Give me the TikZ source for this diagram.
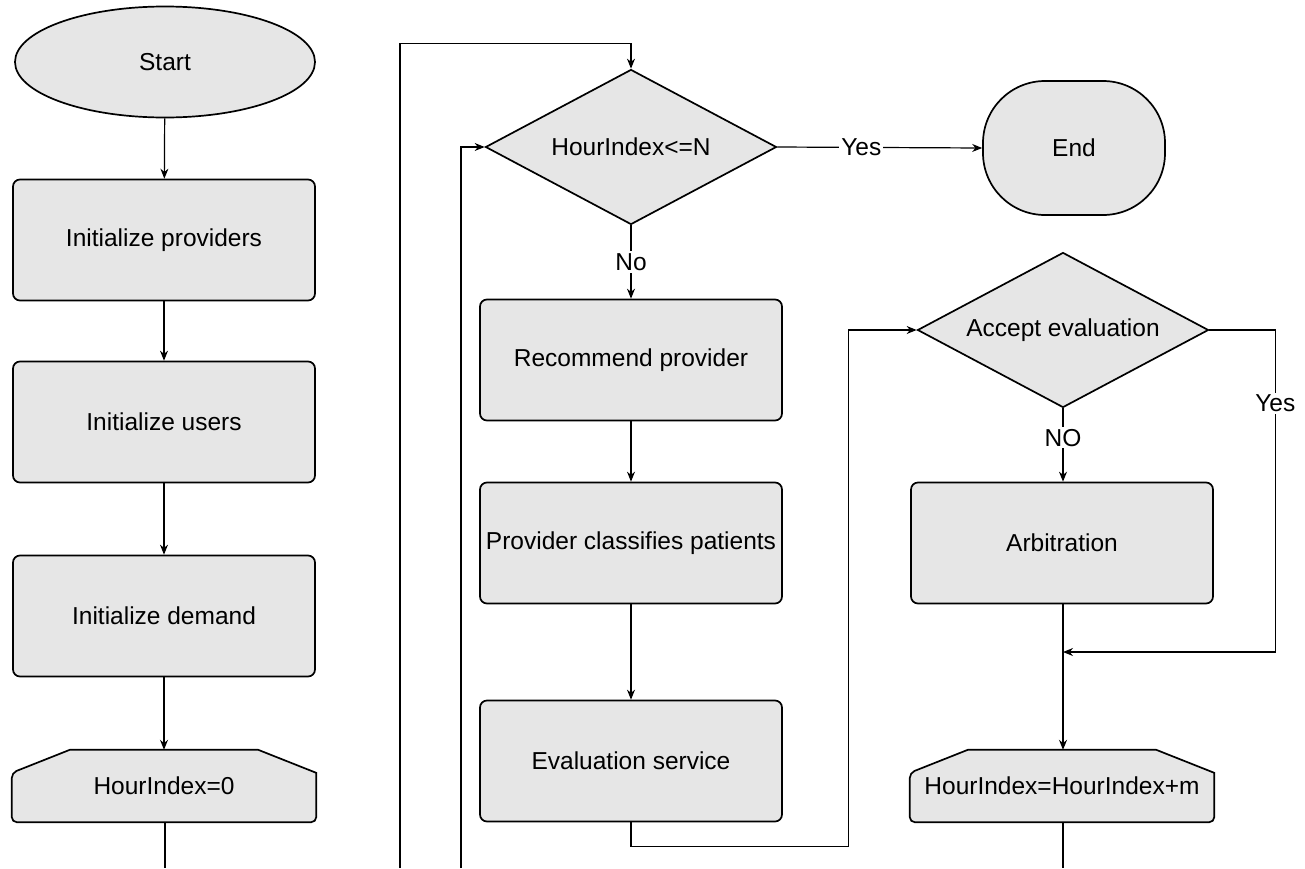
\documentclass[tikz,border=0pt]{standalone}
\usepackage{fontspec}
\setmainfont{Liberation Sans}
\usetikzlibrary{arrows.meta,shapes.geometric,shapes.misc}
\definecolor{boxgray}{HTML}{E6E6E6}
\pgfdeclarelayer{bg}
\pgfsetlayers{bg,main}
\newcommand\prepoutline[1]{%
  \begin{pgfonlayer}{bg}
  \draw[line width=1.7pt, fill=boxgray]
    ([xshift=58pt]#1.north west) -- ([xshift=-58pt]#1.north east)
    -- ([yshift=-23pt]#1.north east) [rounded corners=5pt] -- (#1.south east)
    -- (#1.south west) -- ([yshift=-23pt]#1.north west) [sharp corners] -- cycle;
  \end{pgfonlayer}}
\begin{document}
\begin{tikzpicture}[x=1pt,y=-1pt,
  every node/.style={font=\fontsize{24.5}{29}\selectfont},
  shp/.style={draw, line width=1.7pt, fill=boxgray, inner sep=0pt},
  procbox/.style={shp, rectangle, rounded corners=7pt, minimum width=302pt, minimum height=121pt},
  decide/.style={shp, diamond, aspect=1.89, minimum width=291pt, minimum height=155pt},
  prepbox/.style={rectangle, inner sep=0pt, minimum width=304pt, minimum height=72pt},
  conn/.style={line width=1.2pt, -{Stealth[length=10pt,width=8pt]}},
  plain/.style={line width=1.2pt},
  lbl/.style={fill=white, inner sep=2pt}
]
\useasboundingbox (0,0) rectangle (1305,868);

% left column
\node[shp, ellipse, minimum width=300pt, minimum height=111pt] (start) at (165,62) {Start};
\node[procbox] (iprov) at (164,240) {Initialize providers};
\node[procbox] (iuser) at (164,422) {Initialize users};
\node[procbox] (idem) at (164,616) {Initialize demand};
\node[prepbox] (h0) at (164,786) {HourIndex=0};
\prepoutline{h0}

% middle column
\node[decide] (d1) at (631,147) {HourIndex<=N};
\node[procbox] (rec) at (631,360) {Recommend provider};
\node[procbox] (cls) at (631,543) {Provider classifies patients};
\node[procbox] (evs) at (631,761) {Evaluation service};

% right column
\node[shp, rectangle, rounded corners=62pt, minimum width=182pt, minimum height=134pt] (fin) at (1074,148) {End};
\node[decide] (d2) at (1063,330) {Accept evaluation};
\node[procbox] (arb) at (1062,543) {Arbitration};
\node[prepbox] (hm) at (1062,786) {HourIndex=HourIndex+m};
\prepoutline{hm}

% coordinates at the bottom edge
\coordinate (b0) at (165,868);
\coordinate (l1) at (400,868);
\coordinate (l2) at (461,868);
\coordinate (bm) at (1063,868);
\coordinate (jn) at (1063,652);

% connectors
\draw[conn] (start) -- (iprov);
\draw[conn] (iprov) -- (iuser);
\draw[conn] (iuser) -- (idem);
\draw[conn] (idem) -- (h0);
\draw[plain] (h0.south -| b0) -- (b0);

\draw[conn] (l1) |- ([yshift=25pt]d1.north) -- (d1.north);
\draw[conn] (l2) |- (d1.west);

\draw[conn] (d1.east) -- node[lbl, pos=0.41] {Yes} (fin.west);
\draw[conn] (d1.south) -- node[lbl, pos=0.5] {No} (rec.north);
\draw[conn] (rec) -- (cls);
\draw[conn] (cls) -- (evs);
\draw[conn] (evs.south) -- ++(0,24) -| ([xshift=-68pt]d2.west) -- (d2.west);

\draw[conn] (d2.south) -- node[lbl, pos=0.4] {NO} (d2.south |- arb.north);
\draw[conn] (d2.east) -- ++(66,0) coordinate (yc) -- node[lbl, pos=0.227] {Yes} (yc |- jn) -- (jn);
\draw[plain] (arb.south -| jn) -- (jn);
\draw[conn] (jn) -- (hm.north -| jn);
\draw[plain] (hm.south -| bm) -- (bm);
\end{tikzpicture}
\end{document}
